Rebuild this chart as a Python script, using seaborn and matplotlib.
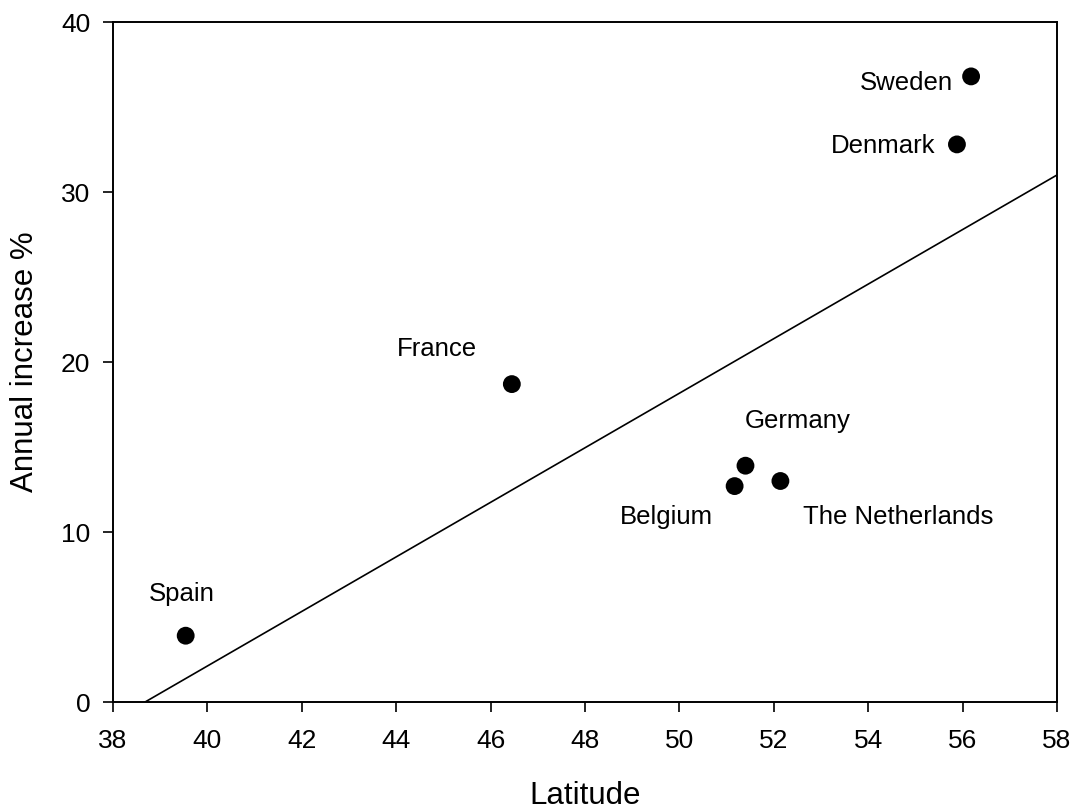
import matplotlib
matplotlib.use("Agg")
import matplotlib.pyplot as plt
import seaborn as sns
import pandas as pd

# ---- data ----------------------------------------------------------------
countries = ["Sweden", "Denmark", "France", "Germany", "Belgium",
             "The Netherlands", "Spain"]
latitude = [56.18, 55.88, 46.45, 51.40, 51.17, 52.14, 39.54]
annual_increase = [36.8, 32.8, 18.7, 13.9, 12.7, 13.0, 3.9]

# fitted line endpoints
fit_lat = [38.68, 58.0]
fit_increase = [0.0, 31.0]

df = pd.DataFrame({"country": countries, "lat": latitude, "inc": annual_increase})
fit = pd.DataFrame({"lat": fit_lat, "inc": fit_increase})

# label placement: (dx, dy) in points from the dot, horizontal alignment
label_pos = {
    "Sweden": (-13, -9.6, "right"),
    "Denmark": (-15.8, -6, "right"),
    "France": (-54, 19.9, "center"),
    "Germany": (37.7, 27, "center"),
    "Belgium": (-49, -27.4, "center"),
    "The Netherlands": (85, -31.2, "center"),
    "Spain": (-2.5, 24.7, "center"),
}

sns.set_style("ticks")
plt.rcParams["font.family"] = ["Liberation Sans", "DejaVu Sans"]
plt.rcParams.update({"text.color": "black", "axes.labelcolor": "black",
                     "xtick.color": "black", "ytick.color": "black"})

fig = plt.figure(figsize=(10.73, 8.11), dpi=100)
ax = fig.add_axes([113 / 1073, 109 / 811, 944 / 1073, 680 / 811])

sns.lineplot(data=fit, x="lat", y="inc", color="black", lw=1.2, ax=ax)
sns.scatterplot(data=df, x="lat", y="inc", color="black", s=165,
                edgecolor="none", zorder=3, ax=ax)

for _, row in df.iterrows():
    dx, dy, ha = label_pos[row["country"]]
    ax.annotate(row["country"], (row["lat"], row["inc"]), xytext=(dx, dy),
                textcoords="offset points", ha=ha, va="baseline",
                fontsize=18.5, color="black")

ax.set_xlim(38, 58)
ax.set_ylim(0, 40)
ax.set_xticks(range(38, 59, 2))
ax.set_yticks(range(0, 41, 10))
ax.tick_params(axis="both", direction="out", length=7.3, width=1.2,
               labelsize=19, top=False, right=False)
ax.tick_params(axis="x", pad=12)
ax.tick_params(axis="y", pad=9)
for s in ax.spines.values():
    s.set_linewidth(1.4)
    s.set_color("black")
ax.set_xlabel("Latitude", fontsize=22.5, labelpad=20)
ax.set_ylabel("Annual increase %", fontsize=22.5, labelpad=15)

fig.savefig("out.png", dpi=100)
